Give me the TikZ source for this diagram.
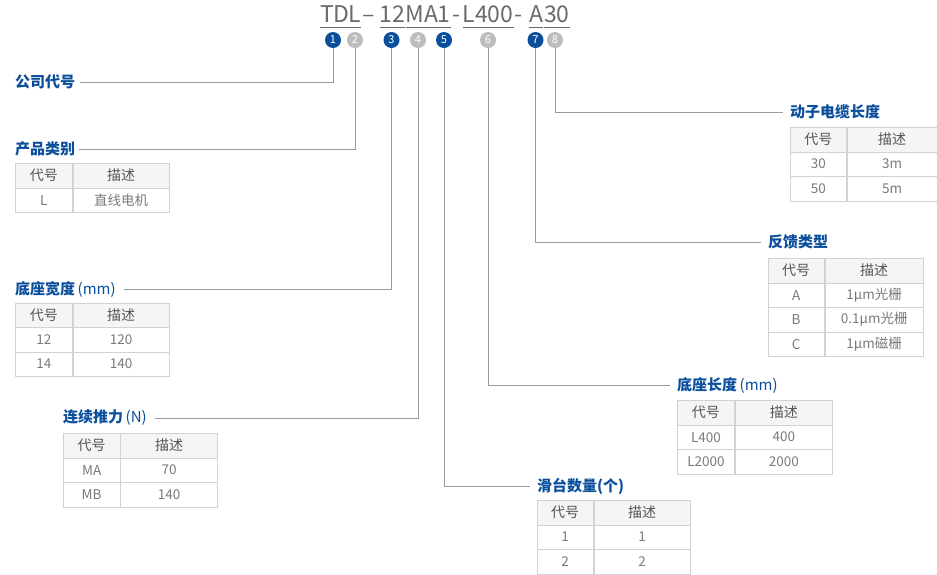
\documentclass[tikz,border=0pt]{standalone}
\usepackage{fontspec}
\setmainfont{Noto Sans CJK SC}
\usetikzlibrary{calc}
\definecolor{brand}{HTML}{0B4F9C}
\definecolor{dotgray}{HTML}{BDBDBD}
\definecolor{leadgray}{HTML}{9A9A9A}
\definecolor{cellline}{HTML}{D2D2D2}
\definecolor{headfill}{HTML}{F5F5F5}
\definecolor{codegray}{HTML}{6A6A6A}
\definecolor{celltext}{HTML}{7A7A7A}
\definecolor{headtext}{HTML}{555555}
\tikzset{
  seg/.style={font=\fontsize{23}{23}\selectfont, text=codegray, anchor=base west, inner sep=0pt},
  uline/.style={draw=codegray, line width=0.9pt},
  bdot/.style={circle, fill=brand, text=white, minimum size=16pt, inner sep=0pt, font=\fontsize{11}{11}\selectfont},
  gdot/.style={circle, fill=dotgray, text=white, minimum size=16pt, inner sep=0pt, font=\fontsize{11}{11}\selectfont},
  ttl/.style={font=\fontsize{15}{15}\selectfont\bfseries, text=brand, inner sep=0pt},
  lead/.style={draw=leadgray, line width=0.9pt},
  hcell/.style={draw=cellline, fill=headfill, line width=0.8pt, minimum height=24.5pt, inner sep=0pt, text=headtext, font=\fontsize{14}{14}\selectfont},
  bcell/.style={draw=cellline, fill=white, line width=0.8pt, minimum height=24.5pt, inner sep=0pt, text=celltext, font=\fontsize{13.5}{14}\selectfont},
}
\newcommand\mktable[6]{%
  \node[hcell,minimum width=#4pt,anchor=north west] (#1h1) at (#2,#3) {代号};
  \node[hcell,minimum width=#5pt,anchor=north west] (#1h2) at (#1h1.north east) {描述};
  \foreach \ca/\cb [count=\ri] in {#6}{
    \node[bcell,minimum width=#4pt,anchor=north west] (#1r\ri-a) at (#2,{#3+24.5*\ri}) {\ca};
    \node[bcell,minimum width=#5pt,anchor=north west] (#1r\ri-b) at (#1r\ri-a.north east) {\cb};
  }%
}
\begin{document}
\begin{tikzpicture}[x=1pt,y=-1pt]
\useasboundingbox[fill=white] (0,0) rectangle (937,574);
% code string
\node[seg] (sTD) at (320,22) {TD};
\node[seg] (sL) at (348.5,22) {L};
\node[seg] (sd1) at (362,22) {–};
\node[seg] (s12) at (379.5,22) {12};
\node[seg] (sMA) at (405.5,22) {MA};
\node[seg] (s1) at (437.5,22) {1};
\node[seg] (sd2) at (452,22) {-};
\node[seg] (sL4) at (462.5,22) {L400};
\node[seg] (sd3) at (514,22) {-};
\node[seg] (sA) at (529,22) {A};
\node[seg] (s30) at (544,22) {30};
\foreach \s in {sTD,sL,s12,sMA,s1,sL4,sA,s30}{
  \draw[uline] ([yshift=-5pt]\s.base west) -- ([yshift=-5pt]\s.base east);
}
% dots
\node[bdot] (c1) at (333,40) {1};
\node[gdot] (c2) at (355,40) {2};
\node[bdot] (c3) at (391.5,40) {3};
\node[gdot] (c4) at (418,40) {4};
\node[bdot] (c5) at (444,40) {5};
\node[gdot] (c6) at (488,40) {6};
\node[bdot] (c7) at (535.5,40) {7};
\node[gdot] (c8) at (555,40) {8};
% titles
\node[ttl,anchor=west] (t1) at (15,82) {公司代号};
\node[ttl,anchor=west] (t2) at (15,149) {产品类别};
\node[ttl,anchor=west] (t3) at (15,289) {底座宽度\,{\mdseries(mm)}};
\node[ttl,anchor=west] (t4) at (63,418) {连续推力\,{\mdseries(N)}};
\node[ttl,anchor=west] (t5) at (537,486) {滑台数量(个)};
\node[ttl,anchor=west] (t6) at (677,385) {底座长度\,{\mdseries(mm)}};
\node[ttl,anchor=west] (t7) at (768,242) {反馈类型};
\node[ttl,anchor=west] (t8) at (790,112) {动子电缆长度};
% connectors
\draw[lead] (c1.south) |- ([xshift=5pt]t1.east);
\draw[lead] (c2.south) |- ([xshift=4pt]t2.east);
\draw[lead] (c3.south) |- ([xshift=8pt]t3.east);
\draw[lead] (c4.south) |- ([xshift=8pt]t4.east);
\draw[lead] (c5.south) |- ([xshift=-7pt]t5.west);
\draw[lead] (c6.south) |- ([xshift=-7pt]t6.west);
\draw[lead] (c7.south) |- ([xshift=-7pt]t7.west);
\draw[lead] (c8.south) |- ([xshift=-7pt]t8.west);
% tables
\mktable{T2}{15}{163}{57}{96}{L/直线电机}
\mktable{T3}{15}{302.5}{57}{96}{12/120,14/140}
\mktable{T4}{63}{433}{56.5}{97}{MA/70,MB/140}
\mktable{T5}{536.5}{500}{56.5}{96}{1/1,2/2}
\mktable{T6}{677}{400}{57}{97.5}{L400/400,L2000/2000}
\mktable{T7}{767.5}{258}{56.5}{98}{A/1μm光栅,B/0.1μm光栅,C/1μm磁栅}
\mktable{T8}{790}{127}{56}{90}{30/3m,50/5m}
\end{tikzpicture}
\end{document}
